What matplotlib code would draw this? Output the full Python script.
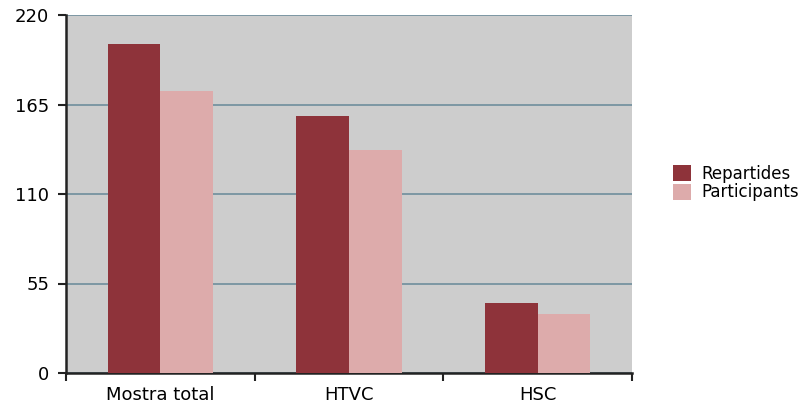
import matplotlib
matplotlib.use("Agg")
import matplotlib.pyplot as plt
import numpy as np

categories = ["Mostra total", "HTVC", "HSC"]
repartides = [202, 158, 43]
participants = [173, 137, 36]
y_ticks = [0, 55, 110, 165, 220]

DARK = "#8e333a"
LIGHT = "#ddabab"

fig = plt.figure(figsize=(8.12, 4.09), dpi=100)
ax = fig.add_axes([66 / 812, 36 / 409, 566 / 812, 358 / 409])
ax.set_facecolor("#cdcdcd")

x = np.arange(len(categories))
width = 0.28
ax.bar(x - width / 2, repartides, width, color=DARK, label="Repartides", zorder=3)
ax.bar(x + width / 2, participants, width, color=LIGHT, label="Participants", zorder=3)

ax.set_xlim(-0.5, len(categories) - 0.5)
ax.set_ylim(0, 220)
ax.set_yticks(y_ticks)
ax.set_yticklabels([str(t) for t in y_ticks], fontsize=13)
ax.yaxis.grid(True, color="#6f8e9c", linewidth=1.2, zorder=1)

ax.set_xticks(x)
ax.set_xticklabels(categories, fontsize=13)
ax.tick_params(axis="x", length=0, pad=9)
ax.set_xticks(np.arange(len(categories) + 1) - 0.5, minor=True)
ax.tick_params(axis="x", which="minor", length=6, width=1.5, color="#222222")
ax.tick_params(axis="y", length=6, width=1.5, color="#222222", pad=6)

for side in ["top", "right"]:
    ax.spines[side].set_visible(False)
for side in ["left", "bottom"]:
    ax.spines[side].set_linewidth(1.8)
    ax.spines[side].set_color("#222222")

fig.legend(loc="center left", bbox_to_anchor=(658 / 812, 1 - 183 / 409),
           frameon=False, fontsize=12, handlelength=1.1, handleheight=1.1,
           handletextpad=0.6, labelspacing=0.05)

fig.savefig("out.png", dpi=100)
